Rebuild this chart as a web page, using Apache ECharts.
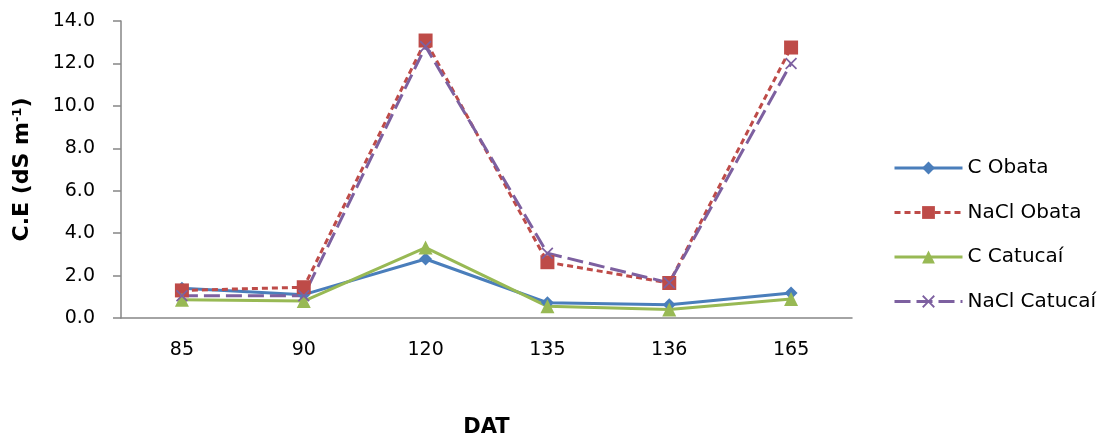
<!DOCTYPE html>
<html>
<head>
<meta charset="utf-8">
<script src="https://cdn.jsdelivr.net/npm/echarts@6/dist/echarts.min.js"></script>
<style>
  html, body { margin: 0; padding: 0; background: #fff; }
  #chart { width: 1106px; height: 438px; }
</style>
</head>
<body>
<div id="chart"></div>
<script>
// Days after transplanting (categories)
const categories = ['85', '90', '120', '135', '136', '165'];

// Electrical conductivity, dS m-1
const cObata       = [1.40, 1.10, 2.78, 0.72, 0.62, 1.18];
const naclObata    = [1.30, 1.45, 13.08, 2.63, 1.65, 12.75];
const cCatucai     = [0.86, 0.80, 3.32, 0.55, 0.40, 0.90];
const naclCatucai  = [1.05, 1.05, 12.80, 3.05, 1.66, 12.00];

const yTicks = { min: 0, max: 14, interval: 2 };

const FONT = '"DejaVu Sans", "Liberation Sans", sans-serif';
const crossPath = 'path://M0,1 L1,0 L5,4 L9,0 L10,1 L6,5 L10,9 L9,10 L5,6 L1,10 L0,9 L4,5 Z';

const chart = echarts.init(document.getElementById('chart'));

function lineSeries(name, data, color, symbol, size, dash) {
  return {
    name: name,
    type: 'line',
    data: data,
    symbol: symbol,
    symbolSize: size,
    showAllSymbol: true,
    lineStyle: { color: color, width: 3, type: dash },
    itemStyle: { color: color },
    emphasis: { disabled: true },
    animation: false
  };
}

chart.setOption({
  backgroundColor: '#ffffff',
  animation: false,
  grid: { left: 121, right: 254, top: 21, bottom: 120, outerBoundsMode: 'none', containLabel: false },
  legend: {
    orient: 'vertical',
    left: 893,
    top: 158,
    padding: 0,
    itemWidth: 68,
    itemHeight: 16,
    itemGap: 24.5,
    lineStyle: { width: 3 },
    textStyle: { fontFamily: FONT, fontSize: 20, color: '#000', lineHeight: 20 },
    data: ['C Obata', 'NaCl Obata', 'C Catucaí', 'NaCl Catucaí']
  },
  xAxis: {
    type: 'category',
    data: categories,
    boundaryGap: true,
    name: 'DAT',
    nameLocation: 'middle',
    nameGap: 99,
    nameTextStyle: { fontFamily: FONT, fontSize: 21, fontWeight: 'bold', color: '#000' },
    axisLine: { lineStyle: { color: '#868686', width: 1.5 } },
    axisTick: { show: false },
    axisLabel: { fontFamily: FONT, fontSize: 19, color: '#000', margin: 23 },
    splitLine: { show: false }
  },
  yAxis: {
    type: 'value',
    min: yTicks.min,
    max: yTicks.max,
    interval: yTicks.interval,
    name: '{b|C.E (dS m}{s|-1}{b|)}',
    nameLocation: 'middle',
    nameRotate: 90,
    nameGap: 88,
    nameTextStyle: {
      rich: {
        b: { fontFamily: FONT, fontSize: 22, fontWeight: 'bold', color: '#000', verticalAlign: 'bottom' },
        s: { fontFamily: FONT, fontSize: 13, fontWeight: 'bold', color: '#000', verticalAlign: 'top', padding: [0, 0, 9, 0] }
      }
    },
    axisLine: { show: true, lineStyle: { color: '#868686', width: 1.5 } },
    axisTick: { show: true, length: 8, lineStyle: { color: '#868686', width: 1.5 } },
    axisLabel: {
      fontFamily: FONT, fontSize: 19, color: '#000', margin: 26,
      formatter: v => v.toFixed(1)
    },
    splitLine: { show: false }
  },
  series: [
    lineSeries('C Obata', cObata, '#4A7EBB', 'diamond', 13, 'solid'),
    lineSeries('NaCl Obata', naclObata, '#BE4B48', 'rect', 14, [6, 4]),
    lineSeries('C Catucaí', cCatucai, '#98B954', 'triangle', 14, 'solid'),
    lineSeries('NaCl Catucaí', naclCatucai, '#7D60A0', crossPath, 12, [16, 6])
  ]
});
</script>
</body>
</html>
